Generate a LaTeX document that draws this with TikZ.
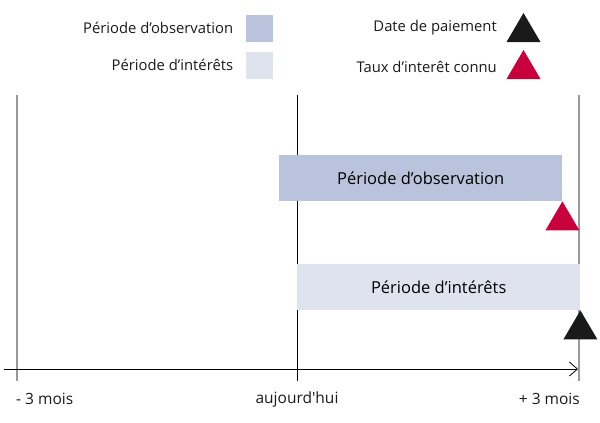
\documentclass[tikz,border=0pt]{standalone}
\usepackage{fontspec}
\setmainfont{Open Sans}
\usetikzlibrary{arrows.meta,positioning}
\definecolor{obs}{HTML}{B9C3DB}\definecolor{int}{HTML}{DFE3EE}
\definecolor{rouge}{HTML}{C8003C}\definecolor{noir}{HTML}{1A1A1A}
\tikzset{bar/.style={minimum width=283pt,minimum height=46pt,inner sep=0pt,font=\fontsize{16.5}{19}\selectfont},
lab/.style={font=\fontsize{14.8}{17}\selectfont,inner sep=0pt,text=noir},
axl/.style={lab,font=\fontsize{15.5}{18}\selectfont},
sq/.style={minimum width=27pt,minimum height=27pt,inner sep=0pt},
tick/.style={line width=1.2pt,gray!80}}
\begin{document}
\begin{tikzpicture}[x=1pt,y=-1pt]
\useasboundingbox(0,0)rectangle(600,423);
% legende
\node[sq,fill=obs](Lobs)at(259,28){};\node[lab,left=12pt of Lobs](tLobs){Période d’observation};
\node[sq,fill=int](Lint)at(259,65){};\node[lab,left=12pt of Lint](tLint){Période d’intérêts};
\coordinate(Lpay)at(523.5,13);\node[lab,anchor=east](tLpay)at(497,28){Date de paiement};
\coordinate(Ltaux)at(523.5,50);\node[lab,anchor=east](tLtaux)at(497,67){Taux d’interêt connu};
% axes
\coordinate(m3t)at(17,95);\coordinate(m3b)at(17,381);
\coordinate(nowt)at(297,95);\coordinate(nowb)at(297,381);
\coordinate(p3t)at(579,95);\coordinate(p3b)at(579,381);
\coordinate(ax0)at(4,369);\coordinate(ax1)at(578,369);
\draw[tick](m3t)--(m3b);\draw[tick](p3t)--(p3b);\draw[line width=0.8pt](nowt)--(nowb);
\draw[line width=0.8pt,-{Straight Barb[length=8pt,width=14pt,line width=0.8pt]}](ax0)--(ax1);
\node[axl,anchor=west](lm3)at(16,399){- 3 mois};
\node[axl](lnow)at(297,399){aujourd\textquotesingle hui};
\node[axl,anchor=east](lp3)at(580,399){+ 3 mois};
% periodes
\node[bar,fill=obs,anchor=north west](obs)at(279,155){Période d’observation};
\node[bar,fill=int,anchor=north west](int)at(297,264){Période d’intérêts};
\coordinate(taux)at(obs.south east);\coordinate(pay)at(int.south east);
\foreach\c/\col in{taux/rouge,pay/noir,Lpay/noir,Ltaux/rouge}
  \fill[\col](\c)--++(17,29)--++(-34,0)--cycle;
\end{tikzpicture}
\end{document}
